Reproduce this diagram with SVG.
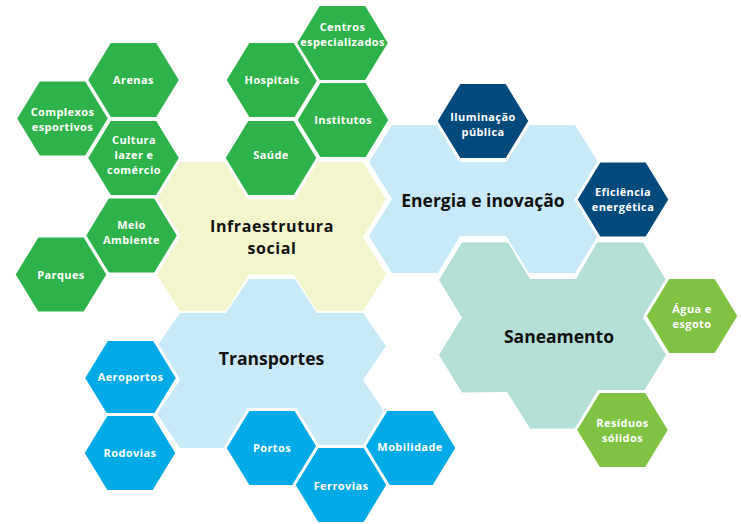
<svg xmlns="http://www.w3.org/2000/svg" xmlns:xlink="http://www.w3.org/1999/xlink" width="741" height="524" viewBox="0 0 741 524">
<defs>
<style>
.big{stroke:none}
.hx{stroke:#ffffff;stroke-width:3;stroke-linejoin:miter}
.g{fill:#2eb34b}
.b{fill:#00aae6}
.n{fill:#024a7c}
.lg{fill:#80c242}
.sl{font-family:"Open Sans","Noto Sans","Liberation Sans",sans-serif;font-weight:700;font-size:11px;letter-spacing:0.4px;fill:#ffffff;text-anchor:middle}
.bl{font-family:"Open Sans","Noto Sans","Liberation Sans",sans-serif;font-weight:700;font-size:17.5px;fill:#111111;text-anchor:middle}
.bl2{font-family:"Open Sans","Noto Sans","Liberation Sans",sans-serif;font-weight:700;font-size:16px;letter-spacing:0.6px;fill:#111111;text-anchor:middle}
</style>
<polygon id="hex" points="-47,0 -23.5,-38.5 23.5,-38.5 47,0 23.5,38.5 -23.5,38.5"/>
</defs>
<rect width="741" height="524" fill="#ffffff"/>

<g id="infraestrutura-social">
<polygon class="big" fill="#f3f5cc" points="180,162 226,162 249,199.5 295,199.5 317,162 363,162 386,199.5 363,237 386,274.5 363,311 317,311 294,274.5 249,274.5 226,311 180,311 157,274.5 180,237 157,199.5"/>
<text class="bl2" x="272" y="232">Infraestrutura</text>
<text class="bl2" x="272" y="254">social</text>
</g>
<g id="energia-e-inovacao">
<polygon class="big" fill="#c8e9f8" points="392,125 438,125 461,162 506,162 529,125 575,125 598,162 575,199 598,236 575,273 529,273 506,236 460,236 438,273 392,273 369,236 392,199 369,162"/>
<text class="bl" x="483" y="207">Energia e inovação</text>
</g>
<g id="saneamento">
<polygon class="big" fill="#b3dfd6" points="462,242.5 508,242.5 530,279 576,279 597,242.5 643,242.5 666,280 643,317.5 666,355 643,392.5 598,392 576,428.5 530,428.5 507,392 462,392.5 439,355 462,317.5 439,280"/>
<text class="bl" x="559" y="343">Saneamento</text>
</g>
<g id="transportes">
<polygon class="big" fill="#c8e9f8" points="249,279 295,279 317,313 363,313 386,346 363,380 386,414 363,448 317,448 294,414 249,414 226,448 180,448 157,414 180,380 157,346 180,313 226,313"/>
<text class="bl" x="271.5" y="365">Transportes</text>
</g>

<g id="arenas"><use xlink:href="#hex" href="#hex" class="hx g" x="133.5" y="80"/><text class="sl" x="133.5" y="84">Arenas</text></g>
<g id="complexos-esportivos"><use xlink:href="#hex" href="#hex" class="hx g" x="62.5" y="118.5"/><text class="sl" x="62.5" y="115.5">Complexos</text><text class="sl" x="62.5" y="130.5">esportivos</text></g>
<g id="cultura-lazer-comercio"><use xlink:href="#hex" href="#hex" class="hx g" x="133.5" y="158"/><text class="sl" x="134" y="144">Cultura</text><text class="sl" x="134" y="159">lazer e</text><text class="sl" x="134" y="174">comércio</text></g>
<g id="meio-ambiente"><use xlink:href="#hex" href="#hex" class="hx g" x="131.5" y="235.5"/><text class="sl" x="131.5" y="228.5">Meio</text><text class="sl" x="131.5" y="243.5">Ambiente</text></g>
<g id="parques"><use xlink:href="#hex" href="#hex" class="hx g" x="61" y="274.5"/><text class="sl" x="61" y="279">Parques</text></g>
<g id="hospitais"><use xlink:href="#hex" href="#hex" class="hx g" x="272" y="80"/><text class="sl" x="272" y="84">Hospitais</text></g>
<g id="centros-especializados"><use xlink:href="#hex" href="#hex" class="hx g" x="342.5" y="43"/><text class="sl" x="342.5" y="31">Centros</text><text class="sl" x="342.5" y="46">especializados</text></g>
<g id="institutos"><use xlink:href="#hex" href="#hex" class="hx g" x="343" y="120"/><text class="sl" x="343" y="124">Institutos</text></g>
<g id="saude"><use xlink:href="#hex" href="#hex" class="hx g" x="271" y="158"/><text class="sl" x="271" y="159">Saúde</text></g>

<g id="iluminacao-publica"><use xlink:href="#hex" href="#hex" class="hx n" x="483" y="121"/><text class="sl" x="483" y="120.5">Iluminação</text><text class="sl" x="483" y="135.5">pública</text></g>
<g id="eficiencia-energetica"><use xlink:href="#hex" href="#hex" class="hx n" x="623" y="199.5"/><text class="sl" x="623" y="196">Eficiência</text><text class="sl" x="623" y="211">energética</text></g>

<g id="agua-e-esgoto"><use xlink:href="#hex" href="#hex" class="hx lg" x="692" y="316"/><text class="sl" x="692" y="312.5">Água e</text><text class="sl" x="692" y="327.5">esgoto</text></g>
<g id="residuos-solidos"><use xlink:href="#hex" href="#hex" class="hx lg" x="622.5" y="430"/><text class="sl" x="622.5" y="426.5">Resíduos</text><text class="sl" x="622.5" y="441.5">sólidos</text></g>

<g id="aeroportos"><use xlink:href="#hex" href="#hex" class="hx b" x="130.5" y="378"/><text class="sl" x="130.5" y="381">Aeroportos</text></g>
<g id="rodovias"><use xlink:href="#hex" href="#hex" class="hx b" x="130" y="453"/><text class="sl" x="130" y="457">Rodovias</text></g>
<g id="portos"><use xlink:href="#hex" href="#hex" class="hx b" x="272" y="448"/><text class="sl" x="272" y="452">Portos</text></g>
<g id="mobilidade"><use xlink:href="#hex" href="#hex" class="hx b" x="410" y="448"/><text class="sl" x="410" y="451">Mobilidade</text></g>
<g id="ferrovias"><use xlink:href="#hex" href="#hex" class="hx b" x="341" y="485"/><text class="sl" x="341" y="490">Ferrovias</text></g>

<g id="connectors"></g>
</svg>
